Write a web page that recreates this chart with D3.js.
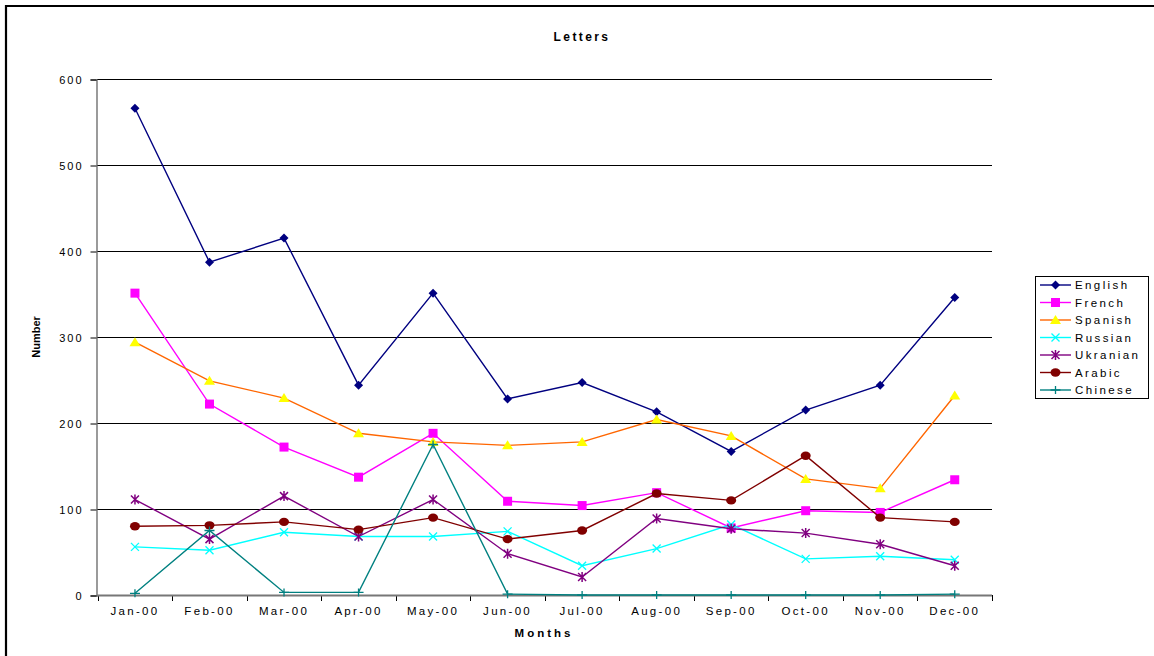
<!DOCTYPE html>
<html><head><meta charset="utf-8">
<script src="https://cdn.jsdelivr.net/npm/d3@7"></script>
<style>
body{margin:0;background:#fff;}
text{font-family:"Liberation Sans",Arial,sans-serif;}
</style></head>
<body><svg id="c" width="1154" height="656"></svg>
<script>
const months = ["Jan-00","Feb-00","Mar-00","Apr-00","May-00","Jun-00","Jul-00","Aug-00","Sep-00","Oct-00","Nov-00","Dec-00"];
const yTicks = [0,100,200,300,400,500,600];
const english  = [566,387,415,244,351,228,247,213,167,215,244,346];
const french   = [351,222,172,137,188,109,104,119,78,98,96,134];
const spanish  = [294,249,229,188,178,174,178,204,185,135,124,232];
const russian  = [56,52,73,68,68,74,34,54,82,42,45,41];
const ukranian = [111,65,115,68,111,48,21,89,77,72,59,34];
const arabic   = [80,81,85,76,90,65,75,118,110,162,90,85];
const chinese  = [2,75,3,3,175,1,0,0,0,0,0,1];

const series = [
  {name:"English", values:english, line:"#000080", fill:"#000080", marker:"diamond"},
  {name:"French", values:french, line:"#FF00FF", fill:"#FF00FF", marker:"square"},
  {name:"Spanish", values:spanish, line:"#FF6600", fill:"#FFFF00", marker:"triangle"},
  {name:"Russian", values:russian, line:"#00FFFF", fill:"#00FFFF", marker:"x"},
  {name:"Ukranian", values:ukranian, line:"#800080", fill:"#800080", marker:"star"},
  {name:"Arabic", values:arabic, line:"#800000", fill:"#800000", marker:"circle"},
  {name:"Chinese", values:chinese, line:"#008080", fill:"#008080", marker:"plus"}
];

const svg = d3.select("#c");
const L=97, R=992, T=79, B=595;
const x = d3.scaleBand().domain(months).range([L+0.7,R]);
const y = d3.scaleLinear().domain([0,600]).range([B,T]);
const cx = d => x(d)+x.bandwidth()/2;

// frame
svg.append("path").attr("d","M6,660 V6 H1160").attr("fill","none").attr("stroke","#000").attr("stroke-width",2.2);

// title
svg.append("text").attr("x",582).attr("y",41).attr("text-anchor","middle")
  .attr("font-size",12).attr("font-weight","bold").attr("letter-spacing","2.4px").text("Letters");

// gridlines
svg.append("g").selectAll("line").data(yTicks.filter(d=>d>0)).join("line")
  .attr("x1",L).attr("x2",R).attr("y1",d=>Math.round(y(d))+0.5).attr("y2",d=>Math.round(y(d))+0.5)
  .attr("stroke","#000").attr("stroke-width",1);

// y axis
const ya = svg.append("g").attr("transform",`translate(${L-0.5},0.5)`)
  .call(d3.axisLeft(y).tickValues(yTicks).tickSize(6).tickPadding(7));
ya.select(".domain").attr("stroke","#666").attr("stroke-width",1.3);
ya.selectAll(".tick line").attr("stroke","#000");
ya.selectAll("text").attr("font-size",11).attr("letter-spacing","2px")
  .attr("font-family","Liberation Sans, Arial, sans-serif").attr("fill","#000");

// x axis
const xa = svg.append("g").attr("transform",`translate(0,${B})`)
  .call(d3.axisBottom(x).tickSize(0).tickPadding(12));
xa.select(".domain").remove();
xa.selectAll("text").attr("font-size",11.5).attr("letter-spacing","2.3px")
  .attr("font-family","Liberation Sans, Arial, sans-serif").attr("fill","#000");
// boundary ticks
const bounds = months.map(m=>x(m)).concat([R]);
svg.append("g").selectAll("line").data(bounds).join("line")
  .attr("x1",d=>Math.round(d)+0.5).attr("x2",d=>Math.round(d)+0.5).attr("y1",B).attr("y2",B+6).attr("stroke","#000");
svg.append("line").attr("x1",L).attr("x2",R).attr("y1",B+0.5).attr("y2",B+0.5).attr("stroke","#777").attr("stroke-width",2);

// axis titles
svg.append("text").attr("x",544).attr("y",637).attr("text-anchor","middle")
  .attr("font-size",11.5).attr("font-weight","bold").attr("letter-spacing","3px").text("Months");
svg.append("text").attr("transform","translate(40,337) rotate(-90)").attr("text-anchor","middle")
  .attr("font-size",11).attr("font-weight","bold").text("Number");

function drawMarker(g, type, color, fill, px, py){
  if(type==="diamond"){
    g.append("path").attr("d",`M${px},${py-4.5}L${px+4.5},${py}L${px},${py+4.5}L${px-4.5},${py}Z`).attr("fill",fill);
  } else if(type==="square"){
    g.append("rect").attr("x",px-4.5).attr("y",py-4.5).attr("width",9).attr("height",9).attr("fill",fill);
  } else if(type==="triangle"){
    g.append("path").attr("d",`M${px},${py-5}L${px+5.5},${py+4}L${px-5.5},${py+4}Z`).attr("fill",fill);
  } else if(type==="x"){
    g.append("path").attr("d",`M${px-4},${py-4}L${px+4},${py+4}M${px-4},${py+4}L${px+4},${py-4}`).attr("stroke",fill).attr("stroke-width",1.3);
  } else if(type==="star"){
    g.append("path").attr("d",`M${px-4},${py-4}L${px+4},${py+4}M${px-4},${py+4}L${px+4},${py-4}M${px},${py-5}L${px},${py+5}`).attr("stroke",fill).attr("stroke-width",1.5);
  } else if(type==="circle"){
    g.append("ellipse").attr("cx",px).attr("cy",py).attr("rx",5).attr("ry",4.2).attr("fill",fill);
  } else if(type==="plus"){
    g.append("path").attr("d",`M${px-5},${py}L${px+5},${py}M${px},${py-4}L${px},${py+4}`).attr("stroke",fill).attr("stroke-width",1.3);
  }
}

const line = d3.line().x((d,i)=>cx(months[i])).y(d=>y(d));
series.forEach(s=>{
  const g = svg.append("g");
  g.append("path").datum(s.values).attr("d",line).attr("fill","none").attr("stroke",s.line).attr("stroke-width",1.4);
  s.values.forEach((v,i)=>drawMarker(g,s.marker,s.line,s.fill,cx(months[i]),y(v)));
});

// legend
const lg = svg.append("g");
lg.append("rect").attr("x",1035.5).attr("y",276.5).attr("width",113).attr("height",122).attr("fill","#fff").attr("stroke","#000");
series.forEach((s,i)=>{
  const yy = 285 + i*17.5;
  lg.append("line").attr("x1",1040).attr("x2",1071).attr("y1",yy).attr("y2",yy).attr("stroke",s.line).attr("stroke-width",1.4);
  drawMarker(lg,s.marker,s.line,s.fill,1055.5,yy);
  lg.append("text").attr("x",1075).attr("y",yy+4).attr("font-size",11.5).attr("letter-spacing","2.4px").text(s.name);
});
</script></body></html>
